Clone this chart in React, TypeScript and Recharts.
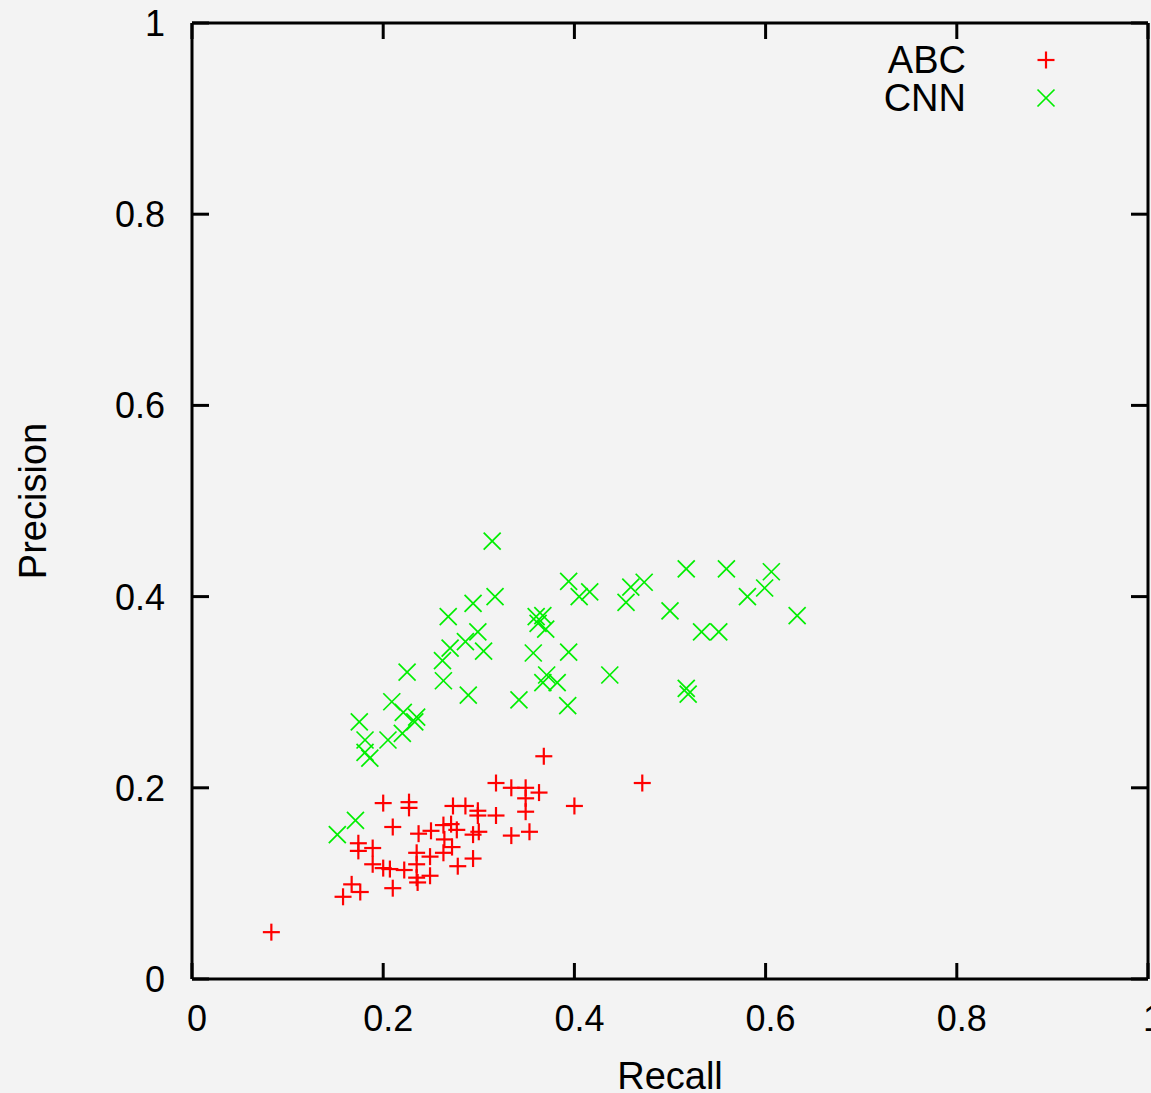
import React from 'react';
import { ScatterChart, Scatter, XAxis, YAxis } from 'recharts';

const ticks = [0, 0.2, 0.4, 0.6, 0.8, 1];
const tickLabels = ['0', '0.2', '0.4', '0.6', '0.8', '1'];
const seriesNames = ['ABC', 'CNN'];

const abcRecall = [
  0.368, 0.471, 0.318, 0.334, 0.349, 0.363, 0.349, 0.349, 0.4, 0.2,
  0.227, 0.227, 0.273, 0.286, 0.299, 0.299, 0.318, 0.21, 0.237, 0.25,
  0.263, 0.271, 0.277, 0.3, 0.294, 0.264, 0.272, 0.263, 0.174, 0.174,
  0.189, 0.235, 0.249, 0.189, 0.2, 0.207, 0.222, 0.235, 0.249, 0.235,
  0.236, 0.278, 0.294, 0.167, 0.176, 0.158, 0.21, 0.334, 0.353, 0.083,
];
const abcPrecision = [
  0.233, 0.205, 0.205, 0.2, 0.2, 0.195, 0.189, 0.175, 0.181, 0.184,
  0.185, 0.179, 0.181, 0.181, 0.176, 0.171, 0.171, 0.159, 0.152, 0.155,
  0.161, 0.162, 0.156, 0.154, 0.151, 0.146, 0.138, 0.132, 0.142, 0.134,
  0.137, 0.132, 0.128, 0.12, 0.116, 0.115, 0.114, 0.12, 0.108, 0.106,
  0.101, 0.118, 0.126, 0.099, 0.091, 0.086, 0.095, 0.15, 0.154, 0.049,
];

const cnnRecall = [
  0.314, 0.394, 0.405, 0.416, 0.294, 0.317, 0.268, 0.299, 0.286, 0.27,
  0.305, 0.262, 0.263, 0.289, 0.225, 0.36, 0.367, 0.362, 0.37, 0.357,
  0.394, 0.437, 0.371, 0.367, 0.382, 0.342, 0.393, 0.209, 0.221, 0.235,
  0.233, 0.175, 0.181, 0.205, 0.22, 0.181, 0.186, 0.171, 0.152, 0.517,
  0.559, 0.606, 0.599, 0.581, 0.633, 0.459, 0.473, 0.454, 0.5, 0.533,
  0.551, 0.517, 0.519,
];
const cnnPrecision = [
  0.458, 0.416, 0.4, 0.405, 0.393, 0.4, 0.379, 0.363, 0.353, 0.346,
  0.343, 0.333, 0.312, 0.297, 0.321, 0.379, 0.38, 0.372, 0.366, 0.341,
  0.342, 0.318, 0.318, 0.31, 0.31, 0.292, 0.286, 0.29, 0.279, 0.274,
  0.269, 0.269, 0.25, 0.25, 0.257, 0.237, 0.231, 0.166, 0.151, 0.429,
  0.429, 0.426, 0.409, 0.4, 0.38, 0.41, 0.415, 0.394, 0.385, 0.363,
  0.363, 0.304, 0.298,
];

const abcData = abcRecall.map((r, i) => ({ recall: r, precision: abcPrecision[i] }));
const cnnData = cnnRecall.map((r, i) => ({ recall: r, precision: cnnPrecision[i] }));

const RED = '#ff0000';
const GREEN = '#00ee00';
const FONT = '"Liberation Sans", Arial, Helvetica, sans-serif';

const Plus = ({ cx, cy }: any) => (
  <g stroke={RED} strokeWidth={2.2}>
    <line x1={cx - 8.5} y1={cy} x2={cx + 8.5} y2={cy} />
    <line x1={cx} y1={cy - 8.5} x2={cx} y2={cy + 8.5} />
  </g>
);

const Cross = ({ cx, cy }: any) => (
  <g stroke={GREEN} strokeWidth={1.7}>
    <line x1={cx - 8.5} y1={cy - 8.5} x2={cx + 8.5} y2={cy + 8.5} />
    <line x1={cx - 8.5} y1={cy + 8.5} x2={cx + 8.5} y2={cy - 8.5} />
  </g>
);

const label = (v: number) => tickLabels[ticks.indexOf(v)] ?? String(v);

const BottomTick = ({ x, y, payload }: any) => (
  <g>
    <line x1={x} y1={y} x2={x} y2={y - 16} stroke="#000" strokeWidth={3} />
    <text x={x + 5} y={y + 52} textAnchor="middle" fontSize={36} fontFamily={FONT} fill="#000">
      {label(payload.value)}
    </text>
  </g>
);

const LeftTick = ({ x, y, payload }: any) => (
  <g>
    <line x1={x} y1={y} x2={x + 17} y2={y} stroke="#000" strokeWidth={3} />
    <text x={x - 27} y={y + 13} textAnchor="end" fontSize={36} fontFamily={FONT} fill="#000">
      {label(payload.value)}
    </text>
  </g>
);

const TopTick = ({ x, y }: any) => (
  <line x1={x} y1={y} x2={x} y2={y + 16} stroke="#000" strokeWidth={3} />
);

const RightTick = ({ x, y }: any) => (
  <line x1={x} y1={y} x2={x - 17} y2={y} stroke="#000" strokeWidth={3} />
);

const axisLine = { stroke: '#000', strokeWidth: 3 };

export default function App() {
  return (
    <div style={{ position: 'absolute', left: 0, top: 0, width: 1151, height: 1093, background: '#f3f3f3', overflow: 'hidden' }}>
      <ScatterChart width={1151} height={1093} margin={{ top: 22, right: 2, bottom: 0, left: 0 }}>
        <XAxis
          xAxisId="bottom"
          dataKey="recall"
          type="number"
          domain={[0, 1]}
          ticks={ticks}
          height={114}
          tickSize={0}
          tickMargin={0}
          tickLine={false}
          axisLine={axisLine}
          tick={<BottomTick />}
          interval={0}
          label={(p: any) => (
            <text
              x={p.viewBox.x + p.viewBox.width / 2}
              y={p.viewBox.y + 110}
              textAnchor="middle"
              fontSize={38}
              fontFamily={FONT}
              fill="#000"
            >
              Recall
            </text>
          )}
        />
        <XAxis
          xAxisId="top"
          orientation="top"
          dataKey="recall"
          type="number"
          domain={[0, 1]}
          ticks={ticks}
          height={1}
          tickSize={0}
          tickMargin={0}
          tickLine={false}
          axisLine={axisLine}
          tick={<TopTick />}
          interval={0}
        />
        <YAxis
          yAxisId="left"
          dataKey="precision"
          type="number"
          domain={[0, 1]}
          ticks={ticks}
          width={192}
          tickSize={0}
          tickMargin={0}
          tickLine={false}
          axisLine={axisLine}
          tick={<LeftTick />}
          interval={0}
          label={(p: any) => {
            const cy = p.viewBox.y + p.viewBox.height / 2;
            return (
              <text
                x={46}
                y={cy}
                transform={`rotate(-90 46 ${cy})`}
                textAnchor="middle"
                fontSize={38}
                fontFamily={FONT}
                fill="#000"
              >
                Precision
              </text>
            );
          }}
        />
        <YAxis
          yAxisId="right"
          orientation="right"
          dataKey="precision"
          type="number"
          domain={[0, 1]}
          ticks={ticks}
          width={1}
          tickSize={0}
          tickMargin={0}
          tickLine={false}
          axisLine={axisLine}
          tick={<RightTick />}
          interval={0}
        />
        <Scatter
          name={seriesNames[0]}
          data={abcData}
          xAxisId="bottom"
          yAxisId="left"
          shape={<Plus />}
          isAnimationActive={false}
        />
        <Scatter
          name={seriesNames[1]}
          data={cnnData}
          xAxisId="top"
          yAxisId="right"
          shape={<Cross />}
          isAnimationActive={false}
        />
      </ScatterChart>
      <svg width={300} height={100} style={{ position: 'absolute', left: 851, top: 30 }}>
        <text x={115} y={43} textAnchor="end" fontSize={38} fontFamily={FONT} fill="#000">
          {seriesNames[0]}
        </text>
        <Plus cx={195} cy={30} />
        <text x={115} y={81} textAnchor="end" fontSize={38} fontFamily={FONT} fill="#000">
          {seriesNames[1]}
        </text>
        <Cross cx={195} cy={68} />
      </svg>
    </div>
  );
}
